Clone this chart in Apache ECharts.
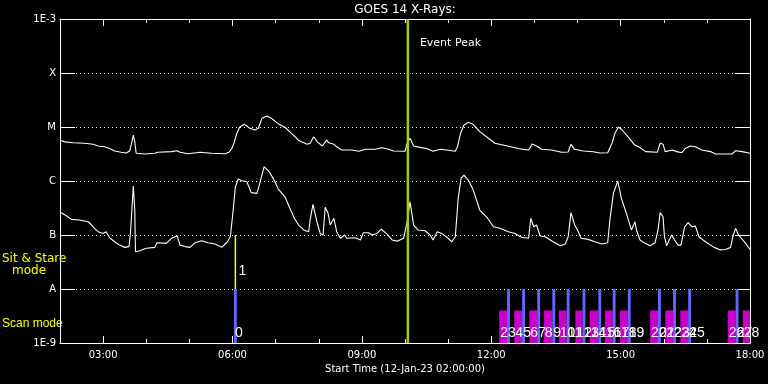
<!DOCTYPE html>
<html><head><meta charset="utf-8">
<script src="https://cdn.jsdelivr.net/npm/echarts@6/dist/echarts.min.js"></script>
<style>html,body{margin:0;padding:0;background:#000}#c{width:768px;height:384px}</style>
</head><body><div id="c"></div>
<script>
// ---- data ----
const title = 'GOES 14 X-Rays:';
const startLabel = 'Start Time (12-Jan-23 02:00:00)';
const xStart = '02:00', xEnd = '18:00';
const majorTicks = ['03:00','06:00','09:00','12:00','15:00','18:00'];
const yTickLabels = {'-3':'1E-3','-4':'X','-5':'M','-6':'C','-7':'B','-8':'A','-9':'1E-9'};
const yMin = 1e-9, yMax = 1e-3;

const longTime = ['02:01','02:07','02:18','02:34','02:46','02:53','03:02','03:09','03:16','03:25','03:32','03:37','03:40','03:42','03:44','03:46','03:58','04:12','04:16','04:35','04:37','04:43','04:47','04:58','05:15','05:31','05:50','05:55','05:59','06:02','06:06','06:10','06:17','06:24','06:31','06:36','06:41','06:48','06:54','07:04','07:13','07:22','07:27','07:32','07:44','07:48','07:53','07:58','08:05','08:11','08:14','08:21','08:25','08:32','08:46','08:56','09:05','09:19','09:28','09:37','09:44','10:00','10:03','10:07','10:12','10:21','10:30','10:39','10:49','10:58','11:10','11:13','11:17','11:22','11:28','11:34','11:44','11:56','12:05','12:21','12:38','12:42','12:52','12:57','13:03','13:10','13:24','13:38','13:47','13:51','13:56','14:08','14:22','14:31','14:42','14:48','14:52','14:57','15:02','15:11','15:19','15:25','15:35','15:51','15:55','15:59','16:02','16:12','16:18','16:25','16:30','16:37','16:44','16:53','17:05','17:12','17:35','17:40','17:49','18:00'];
const longFlux = [5.6e-6,5.3e-6,5.1e-6,5.0e-6,4.8e-6,4.45e-6,4.3e-6,4.0e-6,3.6e-6,3.4e-6,3.3e-6,3.6e-6,5.3e-6,7.1e-6,5.3e-6,3.26e-6,3.16e-6,3.26e-6,3.4e-6,3.5e-6,3.7e-6,3.64e-6,3.4e-6,3.2e-6,3.4e-6,3.26e-6,3.2e-6,3.4e-6,4.0e-6,5.0e-6,7.6e-6,1.0e-5,1.12e-5,9.5e-6,8.8e-6,9.5e-6,1.45e-5,1.6e-5,1.45e-5,1.14e-5,9.9e-6,7.6e-6,6.6e-6,5.6e-6,4.8e-6,5.0e-6,6.6e-6,5.3e-6,4.45e-6,5.7e-6,5.1e-6,4.8e-6,4.3e-6,3.75e-6,3.75e-6,3.55e-6,3.86e-6,3.86e-6,4.14e-6,3.86e-6,3.59e-6,3.55e-6,5.0e-6,6.2e-6,4.45e-6,4.2e-6,4.0e-6,3.55e-6,3.86e-6,3.75e-6,3.55e-6,4.3e-6,7.4e-6,1.09e-5,1.22e-5,1.14e-5,8.2e-6,6.2e-6,5.0e-6,4.5e-6,4.0e-6,3.9e-6,3.75e-6,4.84e-6,4.45e-6,3.86e-6,3.75e-6,3.4e-6,3.44e-6,4.78e-6,3.86e-6,3.59e-6,3.49e-6,3.3e-6,3.34e-6,5.0e-6,7.6e-6,1.0e-5,8.8e-6,6.4e-6,4.7e-6,4.3e-6,3.5e-6,3.4e-6,5.0e-6,4.8e-6,3.5e-6,3.75e-6,3.5e-6,3.34e-6,4.0e-6,4.45e-6,4.3e-6,3.75e-6,3.5e-6,3.16e-6,3.16e-6,3.64e-6,3.5e-6,3.26e-6];

const shortTime = ['02:01','02:07','02:16','02:27','02:39','02:44','02:48','02:53','03:00','03:04','03:09','03:16','03:23','03:30','03:36','03:38','03:40','03:42','03:44','03:45','03:51','04:00','04:12','04:15','04:28','04:35','04:43','04:47','04:54','05:01','05:08','05:17','05:26','05:36','05:45','05:53','05:57','06:00','06:04','06:08','06:13','06:20','06:26','06:34','06:38','06:44','06:52','06:59','07:04','07:13','07:20','07:26','07:32','07:39','07:46','07:48','07:52','07:54','07:58','08:02','08:06','08:09','08:13','08:16','08:21','08:25','08:30','08:36','08:39','08:51','08:58','09:02','09:09','09:14','09:21','09:27','09:35','09:42','09:49','09:58','10:03','10:07','10:12','10:18','10:28','10:35','10:39','10:45','10:51','11:00','11:05','11:10','11:14','11:18','11:22','11:28','11:35','11:44','11:54','12:03','12:12','12:24','12:33','12:42','12:52','12:55','12:59','13:03','13:08','13:15','13:26','13:36','13:43','13:47','13:51','13:56','14:00','14:05','14:15','14:24','14:34','14:42','14:45','14:50','14:56','15:01','15:08','15:15','15:20','15:22','15:27','15:34','15:41','15:48','15:52','15:55','15:59','16:01','16:04','16:11','16:15','16:20','16:24','16:29','16:34','16:39','16:44','16:49','16:58','17:10','17:19','17:26','17:33','17:36','17:40','17:44','17:54','18:00'];
const shortFlux = [2.6e-7,2.35e-7,1.95e-7,1.9e-7,1.76e-7,1.53e-7,1.33e-7,1.15e-7,1.07e-7,1.15e-7,8.9e-8,7.5e-8,6.5e-8,5.9e-8,6.1e-8,1.07e-7,2.9e-7,8.1e-7,2.9e-7,4.9e-8,5.1e-8,5.7e-8,5.9e-8,7.2e-8,7.0e-8,8.7e-8,9.6e-8,6.5e-8,6.1e-8,5.9e-8,7.2e-8,7.8e-8,7.2e-8,6.8e-8,5.9e-8,7.5e-8,9.3e-8,2.18e-7,7.8e-7,1.09e-6,1.01e-6,9.7e-7,6.1e-7,5.9e-7,9.1e-7,1.84e-6,1.43e-6,9.7e-7,7.0e-7,5.1e-7,3.1e-7,2.04e-7,1.53e-7,1.24e-7,1.15e-7,1.9e-7,3.7e-7,3.6e-7,1.65e-7,1.07e-7,1.0e-7,3.26e-7,2.52e-7,1.53e-7,2.04e-7,1.15e-7,8.7e-8,1.0e-7,8.7e-8,8.9e-8,8.1e-8,1.1e-7,1.1e-7,1.0e-7,1.07e-7,1.28e-7,1.04e-7,8.1e-8,7.7e-8,8.7e-8,1.76e-7,4.1e-7,1.53e-7,1.24e-7,1.2e-7,1.0e-7,8.1e-8,1.15e-7,1.07e-7,8.7e-8,7.5e-8,9.3e-8,4.8e-7,1.12e-6,1.29e-6,1.04e-6,6.8e-7,2.9e-7,2.13e-7,1.42e-7,1.33e-7,1.15e-7,1.07e-7,9.1e-8,8.7e-8,2.04e-7,1.42e-7,1.53e-7,9.6e-8,9.3e-8,7.5e-8,6.3e-8,6.8e-8,9.3e-8,2.59e-7,1.53e-7,1.24e-7,8.7e-8,8.3e-8,7.5e-8,6.8e-8,7.2e-8,1.9e-7,5.9e-7,1.0e-6,4.8e-7,2.52e-7,1.24e-7,1.76e-7,1.24e-7,8.1e-8,7.0e-8,6.3e-8,7.2e-8,1.24e-7,2.59e-7,2.18e-7,9.3e-8,6.3e-8,1.0e-7,8.1e-8,6.5e-8,6.5e-8,1.42e-7,1.69e-7,1.42e-7,1.47e-7,9.3e-8,7.5e-8,5.9e-8,5.3e-8,5.4e-8,5.9e-8,9.3e-8,1.33e-7,1.0e-7,7.0e-8,5.4e-8];

// observation-mode blocks: kind M = magenta, B = blue (scan), S = sit & stare
const barLabel = ['0','1','2','3','4','5','6','7','8','9','10','11','12','13','14','15','16','17','18','19','20','21','22','23','24','25','26','27','28'];
const barKind  = ['B','S','M','B','M','B','M','B','M','B','M','B','M','B','M','B','M','B','M','B','M','B','M','B','M','B','M','B','M'];
const barStart = ['06:02','06:04','12:11','12:22','12:32','12:43','12:53','13:04','13:13','13:25','13:34','13:45','13:57','14:07','14:17','14:29','14:38','14:49','14:59','15:10','15:41','15:52','16:02','16:13','16:23','16:34','17:29','17:40','17:50'];
const barEnd   = ['06:06','06:04','12:22','12:26','12:43','12:47','13:04','13:08','13:25','13:29','13:45','13:49','14:07','14:11','14:29','14:33','14:49','14:53','15:10','15:14','15:52','15:56','16:13','16:17','16:34','16:38','17:40','17:44','18:00'];
const magentaTop = 4e-9, blueTop = 1e-8, stareBottom = 1e-8, stareTop = 1e-7;
const eventPeak = '10:04';
const eventLabel = 'Event Peak';

// ---- build ----
const toH = s => { const p = s.split(':'); return +p[0] + (+p[1]) / 60; };
const fmtH = h => (h < 10 ? '0' : '') + Math.round(h) + ':00';
const longData = longTime.map((t, i) => [toH(t), longFlux[i]]);
const shortData = shortTime.map((t, i) => [toH(t), shortFlux[i]]);
const barData = barStart.map((t, i) => [toH(t), toH(barEnd[i])]);
const majorH = majorTicks.map(toH);
const X0 = toH(xStart), X1 = toH(xEnd);

const white = '#ffffff';
const baseX = {type: 'value', min: X0, max: X1, splitLine: {show: false}};
const chart = echarts.init(document.getElementById('c'), null, {renderer: 'canvas'});
chart.setOption({
  backgroundColor: '#000000',
  animation: false,
  grid: {left: 60, right: 18, top: 19, bottom: 41, containLabel: false},
  xAxis: [
    Object.assign({}, baseX, {position: 'bottom', interval: 1,
      axisLine: {show: true, onZero: false, lineStyle: {color: white, width: 1}},
      axisTick: {show: true, inside: true, length: 4, lineStyle: {color: white}},
      axisLabel: {show: true, color: white, fontFamily: 'DejaVu Sans', fontSize: 10, margin: 7,
        formatter: v => (majorH.some(m => Math.abs(m - v) < 1e-6) ? fmtH(v) : '')}}),
    Object.assign({}, baseX, {position: 'bottom',
      axisLine: {show: false, onZero: false},
      axisTick: {show: true, inside: true, length: 7, customValues: majorH, lineStyle: {color: white}},
      axisLabel: {show: false}}),
    Object.assign({}, baseX, {position: 'top', interval: 1,
      axisLine: {show: true, onZero: false, lineStyle: {color: white, width: 1}},
      axisTick: {show: true, inside: true, length: 4, lineStyle: {color: white}},
      axisLabel: {show: false}}),
    Object.assign({}, baseX, {position: 'top',
      axisLine: {show: false, onZero: false},
      axisTick: {show: true, inside: true, length: 7, customValues: majorH, lineStyle: {color: white}},
      axisLabel: {show: false}})
  ],
  yAxis: [
    {type: 'log', logBase: 10, min: yMin, max: yMax, position: 'left',
      axisLine: {show: true, onZero: false, lineStyle: {color: white, width: 1}},
      axisTick: {show: true, inside: true, length: 15, lineStyle: {color: white}},
      minorTick: {show: false},
      axisLabel: {color: white, fontFamily: 'DejaVu Sans', fontSize: 10, margin: 4,
        formatter: v => yTickLabels[String(Math.round(Math.log10(v)))] || ''},
      splitLine: {show: true, lineStyle: {color: white, width: 1, type: [1, 3]}}},
    {type: 'log', logBase: 10, min: yMin, max: yMax, position: 'right',
      axisLine: {show: true, onZero: false, lineStyle: {color: white, width: 1}},
      axisTick: {show: true, inside: true, length: 15, lineStyle: {color: white}},
      axisLabel: {show: false}, splitLine: {show: false}}
  ],
  graphic: [
    {type: 'text', x: 405, y: 10, style: {text: title, fill: white, font: '12px "DejaVu Sans"', align: 'center', verticalAlign: 'middle'}},
    {type: 'text', x: 405, y: 369, style: {text: startLabel, fill: white, font: '10px "DejaVu Sans"', align: 'center', verticalAlign: 'middle'}},
    {type: 'text', x: 2, y: 259, style: {text: 'Sit & Stare', fill: '#ffff00', font: '12px "DejaVu Sans"', align: 'left', verticalAlign: 'middle'}},
    {type: 'text', x: 12, y: 271, style: {text: 'mode', fill: '#ffff00', font: '12px "DejaVu Sans"', align: 'left', verticalAlign: 'middle'}},
    {type: 'text', x: 2, y: 324, style: {text: 'Scan mode', fill: '#ffff00', font: '12px "Liberation Sans"', align: 'left', verticalAlign: 'middle'}}
  ],
  series: [
    {type: 'line', data: longData, xAxisIndex: 0, yAxisIndex: 0, showSymbol: false, symbol: 'none',
      lineStyle: {color: white, width: 1.1}, z: 3},
    {type: 'line', data: shortData, xAxisIndex: 0, yAxisIndex: 0, showSymbol: false, symbol: 'none',
      lineStyle: {color: white, width: 1.1}, z: 3},
    {type: 'custom', xAxisIndex: 0, yAxisIndex: 0, data: barData, z: 4, clip: false,
      renderItem: function (params, api) {
        const i = params.dataIndex, kind = barKind[i];
        const s = api.value(0), e = api.value(1);
        const kids = [];
        if (kind === 'S') {
          const p1 = api.coord([s, stareBottom]), p2 = api.coord([s, stareTop]);
          kids.push({type: 'line', shape: {x1: p1[0], y1: p1[1], x2: p2[0], y2: p2[1]}, style: {stroke: '#ffff00', lineWidth: 1.5}});
          kids.push({type: 'text', style: {text: barLabel[i], x: p1[0] + 3, y: p1[1] - 18, fill: white, font: '14px "Liberation Sans"', align: 'left', verticalAlign: 'middle'}});
        } else {
          const top = kind === 'M' ? magentaTop : blueTop;
          const a = api.coord([s, top]), b = api.coord([e, yMin]);
          kids.push({type: 'rect', shape: {x: a[0], y: a[1], width: b[0] - a[0], height: b[1] - a[1]},
            style: {fill: kind === 'M' ? '#c800c8' : '#6464ff'}});
          kids.push({type: 'text', z2: 10, style: {text: barLabel[i], x: a[0] + 1, y: b[1] - 10, fill: white, font: '14px "Liberation Sans"', align: 'left', verticalAlign: 'middle'}});
        }
        return {type: 'group', children: kids};
      }},
    {type: 'custom', xAxisIndex: 0, yAxisIndex: 0, data: [[toH(eventPeak)]], z: 5, clip: false,
      renderItem: function (params, api) {
        const t = api.value(0);
        const p1 = api.coord([t, yMin]), p2 = api.coord([t, yMax]);
        return {type: 'group', children: [
          {type: 'line', shape: {x1: p1[0], y1: p1[1], x2: p2[0], y2: p2[1]}, style: {stroke: '#a0d000', lineWidth: 2.5}},
          {type: 'text', style: {text: eventLabel, x: p2[0] + 12, y: p2[1] + 24, fill: white, font: '11px "DejaVu Sans"', align: 'left', verticalAlign: 'middle'}}
        ]};
      }}
  ]
});
</script></body></html>
